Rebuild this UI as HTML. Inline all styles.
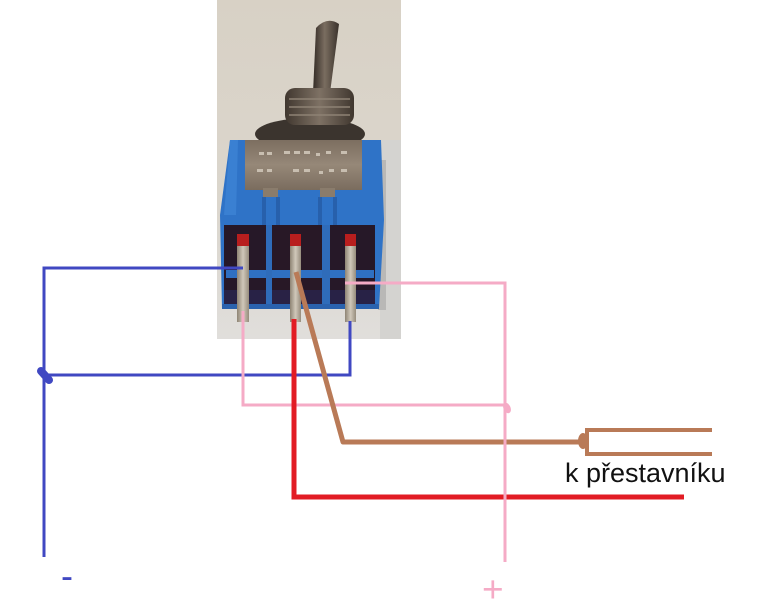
<!DOCTYPE html>
<html><head><meta charset="utf-8"><style>
html,body{margin:0;padding:0;background:#fff;}
svg{display:block;}
</style></head><body>
<svg width="762" height="602" viewBox="0 0 762 602" xmlns="http://www.w3.org/2000/svg">
<defs>
<linearGradient id="bg" x1="0" y1="0" x2="0" y2="1">
<stop offset="0" stop-color="#d8d1c5"/><stop offset="0.6" stop-color="#dbd6cd"/><stop offset="1" stop-color="#e0dedb"/>
</linearGradient>
<linearGradient id="lever" x1="0" y1="0" x2="1" y2="0">
<stop offset="0" stop-color="#332b25"/><stop offset="0.45" stop-color="#7a6d60"/><stop offset="1" stop-color="#3a322b"/>
</linearGradient>
<linearGradient id="bush" x1="0" y1="0" x2="1" y2="0">
<stop offset="0" stop-color="#40372f"/><stop offset="0.5" stop-color="#7e7164"/><stop offset="1" stop-color="#40372f"/>
</linearGradient>
<linearGradient id="plate" x1="0" y1="0" x2="0" y2="1">
<stop offset="0" stop-color="#7c6e60"/><stop offset="0.5" stop-color="#968878"/><stop offset="1" stop-color="#7a6c5e"/>
</linearGradient>
<linearGradient id="term" x1="0" y1="0" x2="1" y2="0">
<stop offset="0" stop-color="#8e8474"/><stop offset="0.5" stop-color="#d0c8ba"/><stop offset="1" stop-color="#968c7c"/>
</linearGradient>
</defs>
<rect width="762" height="602" fill="#fff"/>
<!-- photo -->
<rect x="217" y="0" width="184" height="339" fill="url(#bg)"/>
<rect x="380" y="140" width="21" height="199" fill="#d4d3d0"/>
<rect x="378" y="160" width="8" height="150" fill="#b9b8b6"/>
<!-- lever -->
<path d="M316,28 Q327,16 339,24 L330,93 L313,93 Z" fill="url(#lever)"/>
<!-- washer -->
<ellipse cx="310" cy="134" rx="55" ry="16" fill="#3b342e"/>
<!-- bushing -->
<rect x="285" y="88" width="69" height="37" rx="10" fill="url(#bush)"/>
<line x1="289" y1="99" x2="350" y2="99" stroke="#8e8274" stroke-width="1.5"/>
<line x1="289" y1="107" x2="350" y2="107" stroke="#8e8274" stroke-width="1.5"/>
<line x1="289" y1="115" x2="350" y2="115" stroke="#8e8274" stroke-width="1.5"/>
<!-- blue body -->
<polygon points="230,140 381,140 384,220 379,308 222,308 220,215" fill="#2f73c7"/>
<polygon points="230,140 238,140 236,215 224,215" fill="#3a80d2"/>
<!-- plate -->
<rect x="245" y="140" width="117" height="50" fill="url(#plate)"/>
<rect x="263" y="188" width="15" height="9" fill="#8a7c6c"/>
<rect x="320" y="188" width="15" height="9" fill="#8a7c6c"/>
<g fill="#c8beb0">
<rect x="259" y="152" width="5" height="3"/><rect x="267" y="152" width="5" height="3"/><rect x="284" y="151" width="6" height="3"/><rect x="294" y="151" width="6" height="3"/><rect x="304" y="151" width="6" height="3"/><rect x="316" y="153" width="4" height="3"/><rect x="326" y="151" width="5" height="3"/><rect x="341" y="151" width="6" height="3"/>
<rect x="257" y="169" width="6" height="3"/><rect x="267" y="169" width="5" height="3"/><rect x="293" y="169" width="6" height="3"/><rect x="304" y="169" width="6" height="3"/><rect x="319" y="171" width="4" height="3"/><rect x="329" y="169" width="5" height="3"/><rect x="341" y="169" width="6" height="3"/>
</g>
<!-- channels below plate -->
<rect x="262" y="197" width="4" height="28" fill="#2760ac"/>
<rect x="276" y="197" width="4" height="28" fill="#2760ac"/>
<rect x="318" y="197" width="4" height="28" fill="#2760ac"/>
<rect x="333" y="197" width="4" height="28" fill="#2760ac"/>
<!-- dark wells -->
<rect x="224" y="225" width="42" height="80" fill="#261828"/>
<rect x="272" y="225" width="50" height="80" fill="#281826"/>
<rect x="330" y="225" width="45" height="80" fill="#261828"/>
<rect x="224" y="290" width="151" height="15" fill="#2a2a5a" opacity="0.6"/>
<rect x="226" y="270" width="148" height="8" fill="#2f70c2"/>
<rect x="266" y="225" width="6" height="82" fill="#2f6cba"/>
<rect x="322" y="225" width="8" height="82" fill="#2f6cba"/>
<rect x="222" y="304" width="157" height="5" fill="#2a62ae"/>
<!-- terminals -->
<rect x="237" y="234" width="12" height="16" fill="#b81e1e"/>
<rect x="237" y="246" width="12" height="76" fill="url(#term)"/>
<rect x="290" y="234" width="11" height="16" fill="#b81e1e"/>
<rect x="290" y="246" width="11" height="76" fill="url(#term)"/>
<rect x="345" y="234" width="11" height="16" fill="#b81e1e"/>
<rect x="345" y="246" width="11" height="76" fill="url(#term)"/>
<!-- wires -->
<g fill="none" stroke-linecap="butt">
<polyline points="243,268 44,268 44,557" stroke="#4048c2" stroke-width="3"/>
<polyline points="44,375 350,375 350,321" stroke="#4048c2" stroke-width="3"/>
<polyline points="243,311 243,405 506,405" stroke="#f5abc6" stroke-width="3"/>
<polyline points="294,319 294,497 684,497" stroke="#e21c24" stroke-width="5"/>
<polyline points="296,272 343,442 584,442" stroke="#b97a57" stroke-width="5" stroke-linejoin="round"/>
<polyline points="712,430 587,430 587,454 712,454" stroke="#b97a57" stroke-width="4"/>
<polyline points="345,283 505,283 505,562" stroke="#f5abc6" stroke-width="3"/>
</g>
<!-- blobs -->
<line x1="41" y1="371" x2="49" y2="380" stroke="#4048c2" stroke-width="8" stroke-linecap="round"/>
<ellipse cx="507" cy="408" rx="3.5" ry="5.5" fill="#f5abc6" transform="rotate(-25 507 408)"/>
<ellipse cx="583" cy="441" rx="5" ry="8" fill="#b97a57"/>
<!-- labels -->
<text x="565" y="482" font-family="Liberation Sans, Arial, sans-serif" font-size="27" fill="#111">k přestavníku</text>
<text x="61" y="588" font-family="Liberation Sans, Arial, sans-serif" font-size="36" fill="#4048c2">-</text>
<text x="482" y="602" font-family="Liberation Sans, Arial, sans-serif" font-size="37" fill="#f5abc6">+</text>
</svg>
</body></html>
